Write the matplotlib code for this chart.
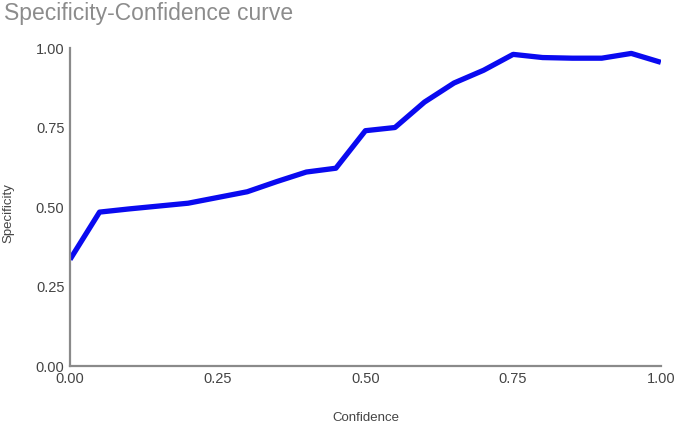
import matplotlib
matplotlib.use("Agg")
from matplotlib import pyplot as plt

# data
confidence = [0.00, 0.05, 0.10, 0.15, 0.20, 0.25, 0.30, 0.35, 0.40, 0.45, 0.50,
              0.55, 0.60, 0.65, 0.70, 0.75, 0.80, 0.85, 0.90, 0.95, 1.00]
specificity = [0.335, 0.484, 0.494, 0.503, 0.512, 0.530, 0.548, 0.580, 0.610, 0.622, 0.740,
               0.750, 0.830, 0.890, 0.930, 0.980, 0.970, 0.968, 0.968, 0.983, 0.955]
ticks = [0.00, 0.25, 0.50, 0.75, 1.00]
tick_labels = ["0.00", "0.25", "0.50", "0.75", "1.00"]

narrow = ["Liberation Sans Narrow", "Liberation Sans", "DejaVu Sans"]

fig = plt.figure(figsize=(6.75, 4.26), dpi=100)
ax = fig.add_axes([0.1037, 0.1408, 0.8753, 0.7465])

ax.plot(confidence, specificity, color="#0a0af0", linewidth=3.8, solid_capstyle="butt")

ax.set_xlim(0, 1)
ax.set_ylim(0, 1)
ax.set_xticks(ticks)
ax.set_xticklabels(tick_labels, family=narrow, fontsize=10.5, color="#444444")
ax.set_yticks(ticks)
ax.set_yticklabels(tick_labels, family=narrow, fontsize=10.5, color="#444444")
ax.tick_params(length=0, pad=4)

for s in ["top", "right"]:
    ax.spines[s].set_visible(False)
for s in ["left", "bottom"]:
    ax.spines[s].set_color("#8a8a8a")
    ax.spines[s].set_linewidth(1.6)

fig.text(0.006, 0.995, "Specificity-Confidence curve", family=["Liberation Sans", "DejaVu Sans"],
         fontsize=16.5, color="#8c8c8c", va="top", ha="left")
fig.text(0.012, 0.5, "Specificity", family=narrow, fontsize=9.5, color="#444444",
         rotation=90, va="center", ha="center")
fig.text(0.542, 0.018, "Confidence", family=narrow, fontsize=9.5, color="#444444",
         va="center", ha="center")

fig.savefig("out.png", dpi=100)
